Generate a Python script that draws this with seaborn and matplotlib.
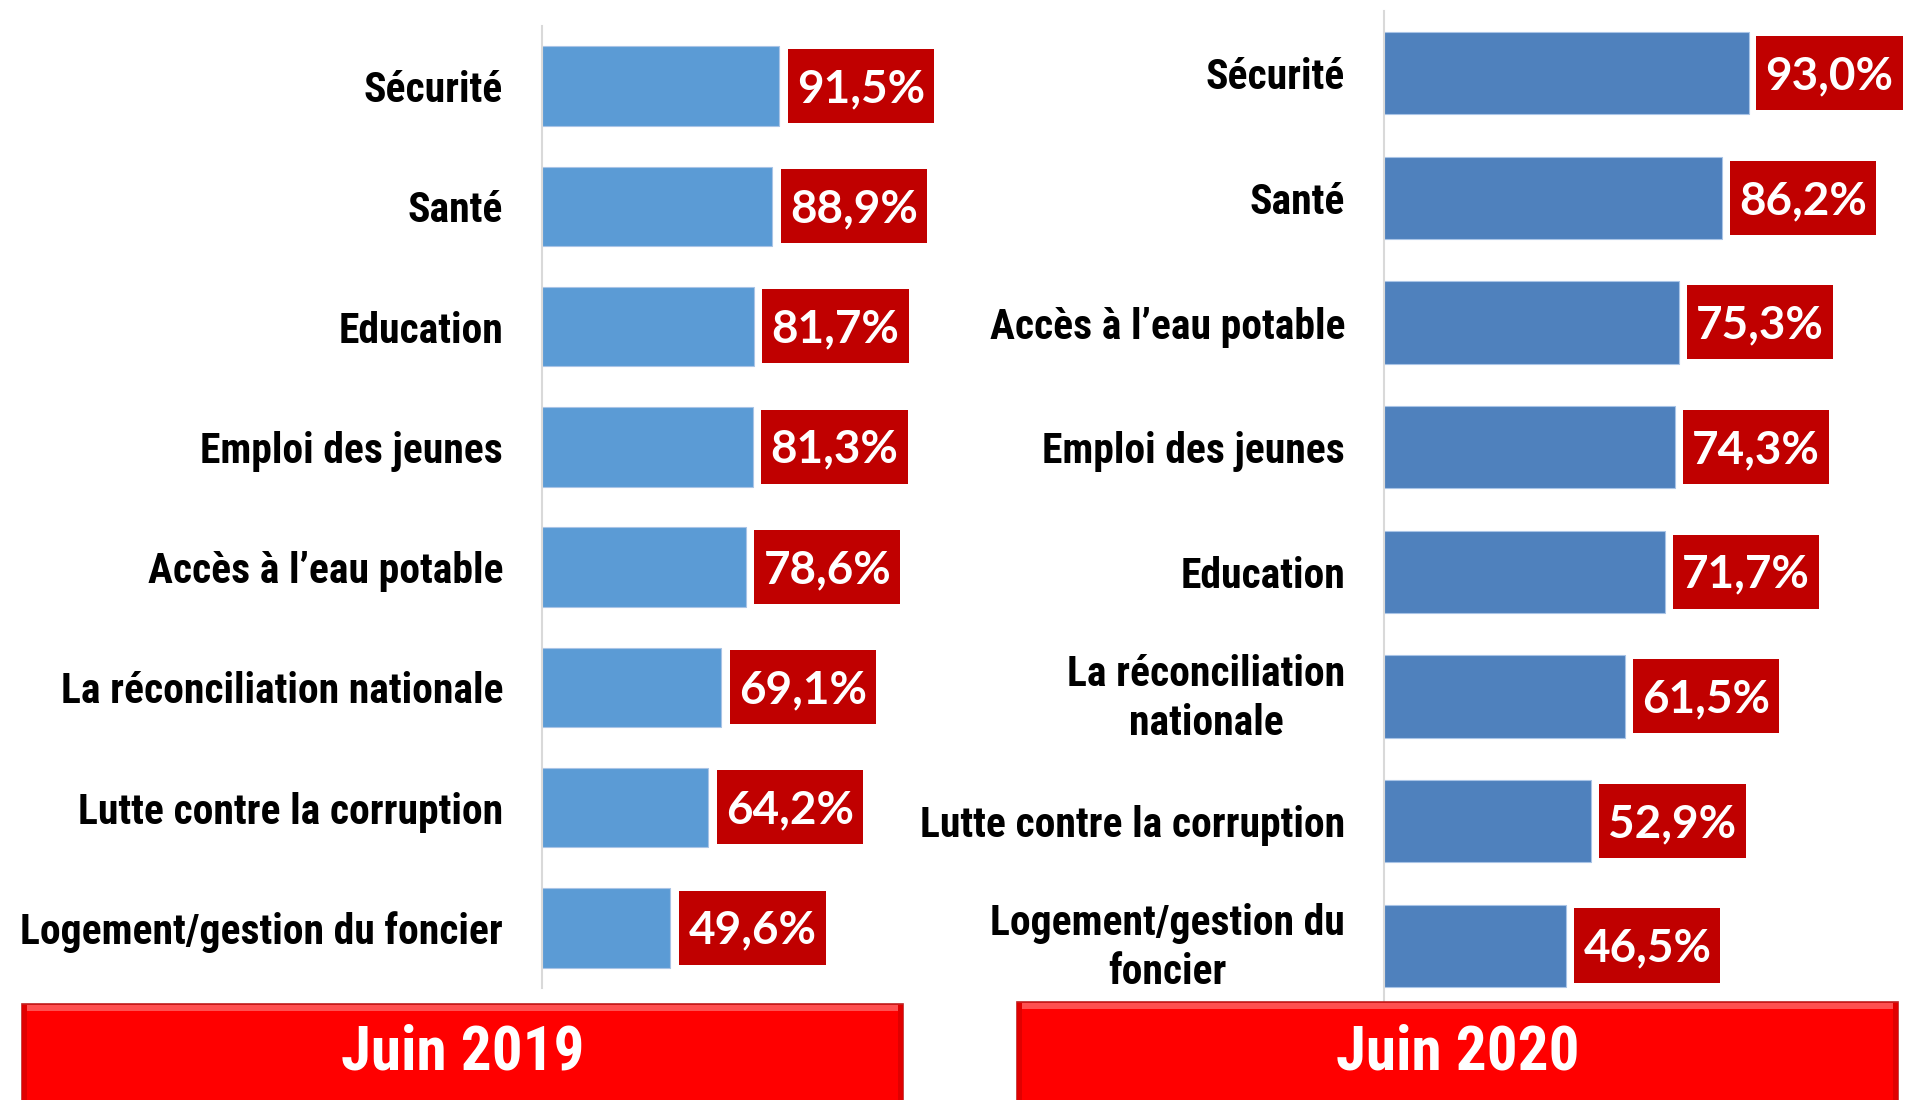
import matplotlib
matplotlib.use("Agg")
import matplotlib.pyplot as plt
from matplotlib import font_manager
from matplotlib.patches import Rectangle
from matplotlib.path import Path
from matplotlib.transforms import ScaledTranslation
import seaborn as sns
import pandas as pd
import numpy as np

# ---------------- data ----------------
cats_2019 = ["Sécurité", "Santé", "Education", "Emploi des jeunes",
             "Accès à l’eau potable", "La réconciliation nationale",
             "Lutte contre la corruption", "Logement/gestion du foncier"]
vals_2019 = [91.5, 88.9, 81.7, 81.3, 78.6, 69.1, 64.2, 49.6]

cats_2020 = ["Sécurité", "Santé", "Accès à l’eau potable", "Emploi des jeunes",
             "Education", "La réconciliation\nnationale",
             "Lutte contre la corruption", "Logement/gestion du\nfoncier"]
vals_2020 = [93.0, 86.2, 75.3, 74.3, 71.7, 61.5, 52.9, 46.5]

titles = ["Juin 2019", "Juin 2020"]

# ---------------- fonts ----------------
sns.set_theme(style="white")
avail = {f.name for f in font_manager.fontManager.ttflist}
def pick(cands):
    for c in cands:
        if c in avail:
            return c
    return "DejaVu Sans"
narrow = pick(["Liberation Sans Narrow", "Arial Narrow", "Roboto Condensed", "DejaVu Sans"])
numfont = pick(["Lato", "Open Sans", "DejaVu Sans"])
plt.rcParams["font.family"] = [narrow, "DejaVu Sans"]

W, H = 1905, 1100
fig = plt.figure(figsize=(W / 100, H / 100), dpi=100)
fig.patch.set_facecolor("white")

bar_colors = ["#5B9BD5", "#4F81BD"]
box_color = "#C00000"


def value_box(x0, y0, width, height, mutation_size):
    px = 0.2 * mutation_size
    py_bot = 0.28 * mutation_size
    py_top = 0.42 * mutation_size
    verts = [(x0 - px, y0 - py_bot), (x0 + width + px, y0 - py_bot),
             (x0 + width + px, y0 + height + py_top), (x0 - px, y0 + height + py_top),
             (x0 - px, y0 - py_bot)]
    return Path(verts, closed=True)


# axes rectangles in figure pixels
layouts = [
    dict(left=542, top=26, width=259, bottom=988, gap=18),
    dict(left=1384, top=11, width=392, bottom=1008, gap=17),
]

datasets = [(cats_2019, vals_2019), (cats_2020, vals_2020)]

for k, ((cats, vals), lay) in enumerate(zip(datasets, layouts)):
    ax = fig.add_axes([lay["left"] / W, 1 - lay["bottom"] / H,
                       lay["width"] / W, (lay["bottom"] - lay["top"]) / H])
    df = pd.DataFrame({"cat": cats, "val": vals})
    sns.barplot(data=df, y="cat", x="val", order=cats, orient="h",
                color=bar_colors[k], saturation=1, width=0.66, ax=ax,
                edgecolor="#A9C4E6", linewidth=0.8)
    ax.set_xlim(0, 100)
    ax.set_ylim(len(cats) - 0.5, -0.5)
    ax.set_xlabel("")
    ax.set_ylabel("")
    ax.set_xticks([])
    ax.tick_params(axis="y", length=0, pad=28)
    for lbl in ax.get_yticklabels():
        lbl.set_fontsize(30)
        lbl.set_fontweight("bold")
        lbl.set_color("black")
        lbl.set_multialignment("center")
        lbl.set_linespacing(1.25)
        if "\n" in lbl.get_text():
            lbl.set_transform(lbl.get_transform() +
                              ScaledTranslation(0, 6 / 100, fig.dpi_scale_trans))
    for s in ["top", "right", "bottom"]:
        ax.spines[s].set_visible(False)
    ax.spines["left"].set_color("#D9D9D9")
    ax.spines["left"].set_linewidth(1.5)
    ax.patch.set_alpha(0)

    for i, v in enumerate(vals):
        txt = f"{v:.1f}".replace(".", ",") + "%"
        ax.annotate(txt, xy=(v, i), xytext=(lay["gap"], -3),
                    textcoords="offset pixels", ha="left", va="center",
                    fontsize=33, fontweight="bold", color="white",
                    family=[numfont, "DejaVu Sans"],
                    bbox=dict(boxstyle=value_box, fc=box_color, ec="none"),
                    annotation_clip=False, clip_on=False)

# ---------------- bottom banners ----------------
banners = [(22, 1004, 881), (1017, 1002, 881)]
for (bx, by, bw), title in zip(banners, titles):
    h = (1100 - by) / H + 0.01
    y0 = -0.01
    fig.patches.append(Rectangle((bx / W, y0), bw / W, h,
                                 transform=fig.transFigure, fc="#FF0000",
                                 ec="#C02020", lw=1.2, zorder=5))
    # bevel highlights / shading
    fig.patches.append(Rectangle((bx / W + 0.001, 1 - (by + 7) / H), bw / W - 0.002,
                                 6 / H, transform=fig.transFigure,
                                 fc="#FF5050", ec="none", zorder=6))
    fig.patches.append(Rectangle((bx / W, y0), 5 / W, h - 1 / H,
                                 transform=fig.transFigure,
                                 fc="#E00000", ec="none", zorder=6))
    fig.patches.append(Rectangle(((bx + bw - 5) / W, y0), 5 / W, h - 1 / H,
                                 transform=fig.transFigure,
                                 fc="#E00000", ec="none", zorder=6))
    fig.text((bx + bw / 2) / W, 1 - 1053 / H, title, ha="center", va="center",
             fontsize=44, fontweight="bold", color="white", zorder=7)

fig.savefig("out.png", dpi=100, facecolor="white")
